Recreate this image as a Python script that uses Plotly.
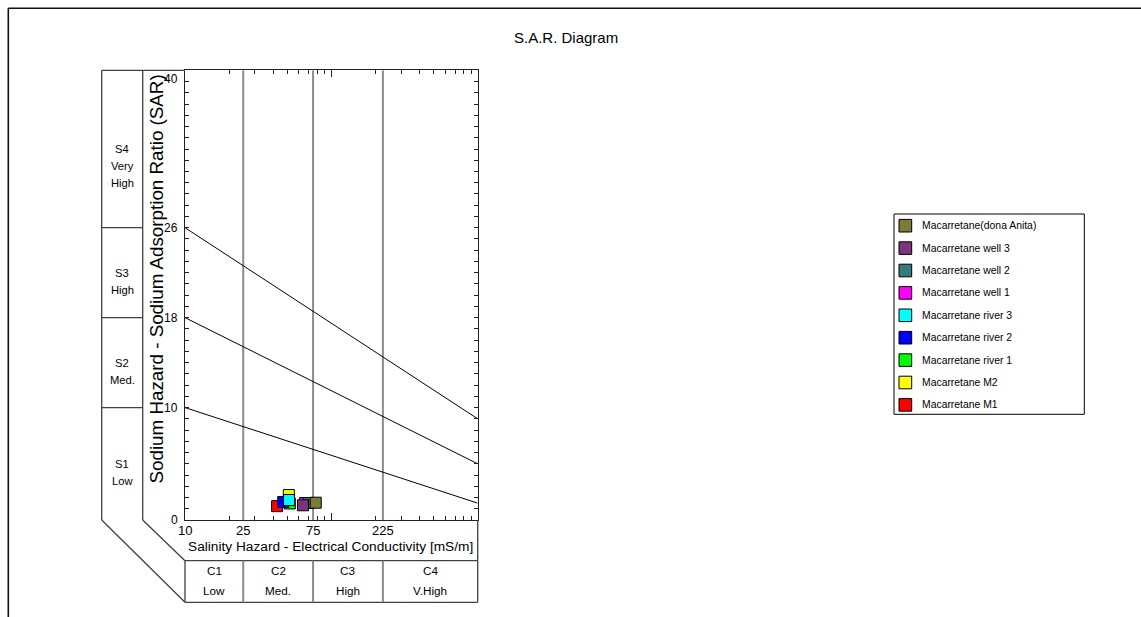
import numpy as np
import plotly.graph_objects as go

W, H = 1141, 617

# ---- sample data (plotting order; legend lists them in reverse) ----
sample_names = [
    "Macarretane M1", "Macarretane M2", "Macarretane river 1",
    "Macarretane river 2", "Macarretane river 3", "Macarretane well 1",
    "Macarretane well 2", "Macarretane well 3", "Macarretane(dona Anita)",
]
sample_colors = [
    "#ff0000", "#ffff00", "#00ff00", "#0000ff", "#00ffff",
    "#ff00ff", "#347c7c", "#7c347c", "#7c7c38",
]
ec_values = [42.6, 51.2, 52.0, 46.9, 51.4, 66.2, 70.0, 64.0, 78.2]   # mS/m
sar_values = [1.23, 2.22, 1.47, 1.60, 1.78, 1.51, 1.51, 1.31, 1.54]

# ---- diagram classes ----
ec_range = [10, 1000]
sar_range = [0, 40]
ec_class_bounds = [25, 75, 225]
sar_line_start = [10, 18, 26]      # SAR at EC = 10
sar_line_end = [1.5, 5, 9]         # SAR at EC = 1000
ec_tick_labels = [10, 25, 75, 225]
sar_tick_labels = [0, 10, 18, 26, 40]
ec_minor_ticks = [20, 30, 40, 50, 60, 70, 80, 90, 200, 300, 400, 500, 600, 700, 800, 900]
s_classes = [["S1", "Low"], ["S2", "Med."], ["S3", "High"], ["S4", "Very", "High"]]
c_classes = [("C1", "Low"), ("C2", "Med."), ("C3", "High"), ("C4", "V.High")]

FONT = "Liberation Sans, Arial, sans-serif"
BOX = "#404040"
GRID = "#8c8c8c"
AX = "#222222"

# plot area in page pixels
L, R, T, B = 185.0, 477.7, 70.3, 520.0
BOX_L, BOX_M = 101.7, 142.7
C_TOP, C_BOT = 560.7, 602.3


def px(x):
    return x / W


def py(y):
    return 1 - y / H


def ec_to_px(v):
    lo, hi = np.log10(ec_range)
    return L + (np.log10(v) - lo) / (hi - lo) * (R - L)


def sar_to_px(v):
    return B - (v - sar_range[0]) / (sar_range[1] - sar_range[0]) * (B - T)


fig = go.Figure()

# class boundary verticals
for v in ec_class_bounds:
    fig.add_trace(go.Scatter(x=[v, v], y=sar_range, mode="lines",
                             line=dict(color=GRID, width=2),
                             hoverinfo="skip", showlegend=False))

# sodium hazard boundary lines
for s0, s1 in zip(sar_line_start, sar_line_end):
    fig.add_trace(go.Scatter(x=ec_range, y=[s0, s1], mode="lines",
                             line=dict(color="black", width=1),
                             hoverinfo="skip", showlegend=False))

# samples
for name, col, ec, sar in zip(sample_names, sample_colors, ec_values, sar_values):
    fig.add_trace(go.Scatter(x=[ec], y=[sar], mode="markers", name=name,
                             marker=dict(symbol="square", size=11, color=col,
                                         line=dict(color="black", width=1)),
                             showlegend=False))

shapes = []


def seg(x0, y0, x1, y1, color=BOX, width=1.3):
    shapes.append(dict(type="line", xref="paper", yref="paper",
                       x0=px(x0), y0=py(y0), x1=px(x1), y1=py(y1),
                       line=dict(color=color, width=width)))


# page frame
seg(8.3, 8.3, W, 8.3, color="#111111", width=1.6)
seg(8.3, 8.3, 8.3, H, color="#111111", width=1.6)

# SAR class column
seg(BOX_L, T, BOX_L, B)
seg(BOX_M, T, BOX_M, B)
seg(BOX_L, T, L, T)
for v in sar_line_start:
    seg(BOX_L, sar_to_px(v), BOX_M, sar_to_px(v))

# perspective diagonals
seg(BOX_L, B, L, C_BOT)
seg(BOX_M, B, L, C_TOP)

# conductivity class row
seg(L, C_TOP, R, C_TOP)
seg(L, C_BOT, R, C_BOT)
seg(L, C_TOP, L, C_BOT)
seg(R, B, R, C_BOT)
for v in ec_class_bounds:
    seg(ec_to_px(v), C_TOP, ec_to_px(v), C_BOT, color=GRID, width=2)

annotations = []


def text(x, y, s, size=13, xanchor="center", yanchor="middle",
         xref="paper", yref="paper", **kw):
    annotations.append(dict(text=s, x=x, y=y, xref=xref, yref=yref,
                            xanchor=xanchor, yanchor=yanchor, showarrow=False,
                            font=dict(family=FONT, size=size, color="black"), **kw))


# title
text(px(565.5), py(37), "S.A.R. Diagram", size=15)

# axis tick labels
for v in ec_tick_labels:
    text(np.log10(v), py(530.5), str(v), size=13, xref="x")
for v in sar_tick_labels:
    text(px(180.5), v, str(v), size=12, xanchor="right", yref="y",
         yshift=-9 if v == sar_range[1] else 0)

# axis titles
text(px(330.5), py(546.7), "Salinity Hazard - Electrical Conductivity [mS/m]",
     size=13.7)
text(px(155.5), py(279), "Sodium Hazard - Sodium Adsorption Ratio (SAR)",
     size=18.8, textangle=-90)

# S class labels: first line at the middle of each band, 17 px line pitch
s_edges = [sar_range[0]] + sar_line_start + [sar_range[1]]
for i, lines in enumerate(s_classes):
    y0 = (sar_to_px(s_edges[i]) + sar_to_px(s_edges[i + 1])) / 2
    for j, s in enumerate(lines):
        text(px((BOX_L + BOX_M) / 2), py(y0 + 17 * j), s, size=11.2)

# C class labels
c_edges = [ec_range[0]] + ec_class_bounds + [ec_range[1]]
for i, (a, b) in enumerate(c_classes):
    xc = (ec_to_px(c_edges[i]) + ec_to_px(c_edges[i + 1])) / 2
    text(px(xc), py(570.7), a, size=11.7)
    text(px(xc), py(590), b, size=11.7)

# legend box
LG_L, LG_R, LG_T, LG_B = 894, 1084.3, 214, 414.3
shapes.append(dict(type="rect", xref="paper", yref="paper",
                   x0=px(LG_L), x1=px(LG_R), y0=py(LG_B), y1=py(LG_T),
                   line=dict(color="black", width=1)))
for k, (name, col) in enumerate(zip(sample_names[::-1], sample_colors[::-1])):
    yc = 225.7 + k * 22.4
    shapes.append(dict(type="rect", xref="paper", yref="paper",
                       x0=px(899), x1=px(911.7), y0=py(yc + 6.3), y1=py(yc - 6.3),
                       fillcolor=col, line=dict(color="black", width=1)))
    text(px(920), py(yc), name, size=10.4, xanchor="left")

fig.update_layout(
    width=W, height=H, autosize=False,
    margin=dict(l=0, r=0, t=0, b=0),
    paper_bgcolor="white", plot_bgcolor="white",
    showlegend=False,
    shapes=shapes, annotations=annotations,
    xaxis=dict(type="log", range=list(np.log10(ec_range)),
               domain=[px(L), px(R)], showgrid=False, zeroline=False,
               showline=True, linecolor=AX, linewidth=1.3, mirror="ticks",
               ticks="inside", tickvals=[100], ticklen=7, tickwidth=1,
               tickcolor=AX, showticklabels=False,
               minor=dict(tickvals=ec_minor_ticks, ticks="inside", ticklen=3.5,
                          tickwidth=1, tickcolor=AX)),
    yaxis=dict(range=sar_range, domain=[py(B), py(T)], showgrid=False,
               zeroline=False, showline=True, linecolor=AX, linewidth=1.3,
               mirror="ticks", ticks="inside", dtick=1, ticklen=3.5, tickwidth=1,
               tickcolor=AX, showticklabels=False),
)

fig.write_html("out.html")
